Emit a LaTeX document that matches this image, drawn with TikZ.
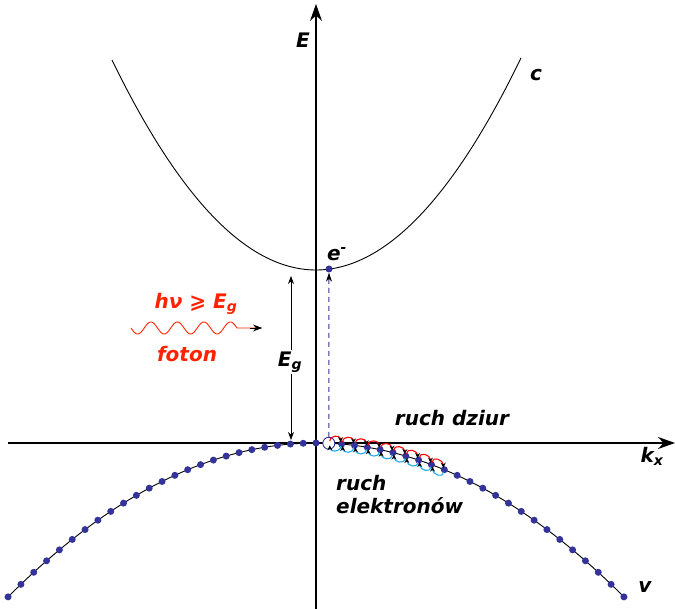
\documentclass[tikz,border=0pt]{standalone}
\usepackage{fontspec}
\setmainfont{DejaVu Sans}
\usetikzlibrary{arrows.meta,calc}
\definecolor{dotblue}{HTML}{333399}
\definecolor{photon}{HTML}{FF2200}
\definecolor{elblue}{HTML}{22AAEE}
\tikzset{
  lbl/.style={font=\fontsize{20}{24}\selectfont\bfseries\itshape, inner sep=0pt},
  axis/.style={line width=1.1pt, -{Stealth[length=17pt,width=12pt]}},
  band/.style={line width=0.9pt},
  dot/.style={circle, fill=dotblue, inner sep=0pt, minimum size=7pt},
  holemark/.style={circle, draw=dotblue, fill=white, line width=0.9pt, inner sep=0pt, minimum size=12pt},
  holearc/.style={red, line width=1.1pt, looseness=1.6, -{Stealth[length=5pt,width=5pt,black]}},
  elarc/.style={elblue, line width=1.1pt, looseness=1.6, -{Stealth[length=5pt,width=5pt,black]}},
  thinarrow/.style={line width=0.8pt, {Stealth[length=8pt,width=6pt]}-{Stealth[length=8pt,width=6pt]}}
}
\begin{document}
\begin{tikzpicture}[x=1pt,y=-1pt]
\useasboundingbox (0,0) rectangle (675,609);
% axes
\coordinate (yb) at (316,609);
\coordinate (yt) at (316,4);
\coordinate (xl) at (8,443);
\coordinate (xr) at (675,443);
\draw[axis] (yb) -- (yt);
\draw[axis] (xl) -- (xr);
% conduction band
\draw[band] plot[domain=112:521, samples=120] (\x, {270-50.46*((\x-316)/100)^2});
% valence band
\draw[band] plot[domain=8:625, samples=150] (\x, {443+16.23*((\x-316)/100)^2});
% electrons in valence band
\foreach \k in {-24,...,24}{
  \ifnum\k=1\relax
    \node[holemark] (d\k) at ({316+12.83*\k}, {443+16.23*((12.83*\k)/100)^2}) {};
  \else
    \node[dot] (d\k) at ({316+12.83*\k}, {443+16.23*((12.83*\k)/100)^2}) {};
  \fi
}
% hole / electron motion arcs
\foreach \k [evaluate=\k as \n using int(\k+1)] in {1,...,9}{
  \draw[holearc] ($(d\k.center)+(1,-2)$) to[out=90,in=90] ($(d\n.center)+(-1,-2)$);
  \draw[elarc] ($(d\n.center)+(-1,2)$) to[out=-90,in=-90] ($(d\k.center)+(1,2)$);
}
% electron in conduction band
\node[dot] (el) at (329,269) {};
% dashed excitation
\draw[dotblue, line width=1pt, dash pattern=on 5pt off 4pt, -{Stealth[length=9pt,width=6pt,black]}] (d1.north) -- (el.south);
% gap arrow
\coordinate (gt) at (291,276);
\coordinate (gb) at (291,440);
\draw[thinarrow] (gb) -- (gt);
\node[lbl, fill=white, inner sep=2pt] (eg) at (290,362) {E\textsubscript{\fontsize{14}{14}\selectfont g}};
% photon
\coordinate (ps) at (131,328);
\coordinate (pe) at (262,328);
\draw[photon, line width=0.9pt] plot[domain=131:237, samples=120] (\x, {328+6*sin((\x-131)/26.5*360)}) -- (pe);
\draw[line width=0.9pt, -{Stealth[length=9pt,width=7pt,black]}] (250,328) -- (pe);
% labels
\node[lbl] (lE) at (303,40) {E};
\node[lbl] (lc) at (536,75) {c};
\node[lbl] (le) at (337,254) {e\textsuperscript{-}};
\node[lbl, text=photon] (lh) at (196,304) {hν ⩾ E\textsubscript{\fontsize{14}{14}\selectfont g}};
\node[lbl, text=photon] (lf) at (187,354) {foton};
\node[lbl] (lk) at (652,456) {k\textsubscript{\fontsize{14}{14}\selectfont x}};
\node[lbl] (ld) at (452,418) {ruch dziur};
\node[lbl, anchor=west, align=left] (lel) at (336,495) {ruch\\[-1pt]elektronów};
\node[lbl] (lv) at (645,587) {v};
\end{tikzpicture}
\end{document}
